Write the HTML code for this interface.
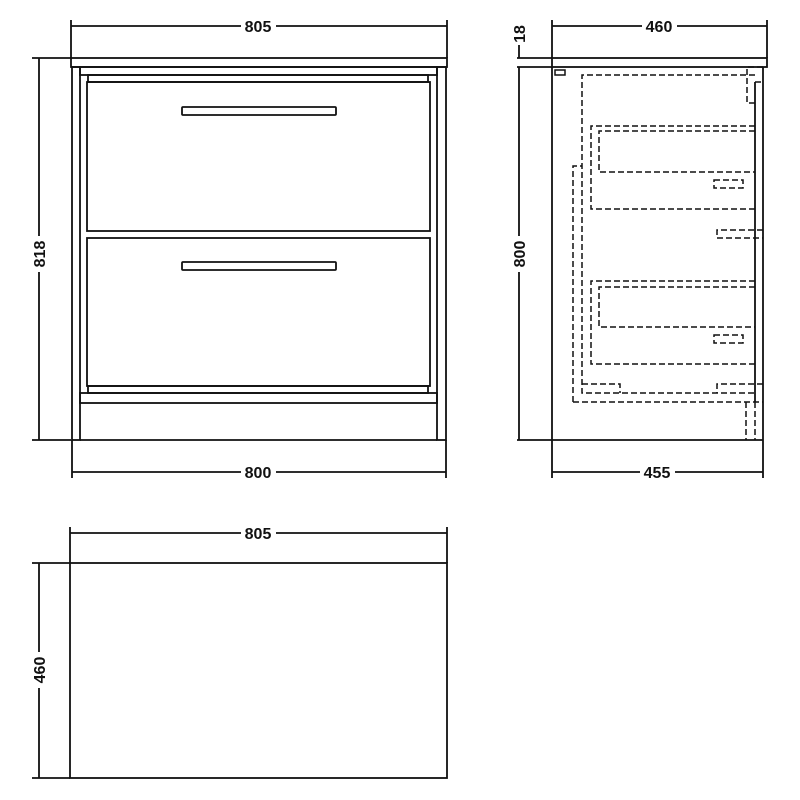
<!DOCTYPE html>
<html><head><style>html,body{margin:0;padding:0;background:#fff}svg{display:block}</style></head>
<body>
<svg width="800" height="800" viewBox="0 0 800 800" xmlns="http://www.w3.org/2000/svg" font-family="Liberation Sans, sans-serif" font-weight="bold" font-size="16">
<g stroke="#111" stroke-width="1.8" fill="none">
<line x1="71" y1="20" x2="71" y2="58"/><line x1="447" y1="20" x2="447" y2="58"/>
<line x1="71" y1="26" x2="241" y2="26"/><line x1="276" y1="26" x2="447" y2="26"/>
<line x1="32" y1="58" x2="71" y2="58"/><line x1="32" y1="440" x2="71" y2="440"/>
<line x1="39" y1="58" x2="39" y2="236"/><line x1="39" y1="272" x2="39" y2="440"/>
<line x1="72" y1="440" x2="72" y2="478"/><line x1="446" y1="440" x2="446" y2="478"/>
<line x1="72" y1="472" x2="241" y2="472"/><line x1="276" y1="472" x2="446" y2="472"/>
<rect x="71" y="58" width="376" height="9"/>
<rect x="72" y="67" width="8" height="373"/>
<rect x="437" y="67" width="9" height="373"/>
<line x1="80" y1="440" x2="437" y2="440"/>
<rect x="80" y="67" width="357" height="8"/>
<rect x="88" y="75" width="340" height="7"/>
<rect x="87" y="82" width="343" height="149"/>
<rect x="87" y="238" width="343" height="148"/>
<rect x="88" y="386" width="340" height="7"/>
<rect x="80" y="393" width="357" height="10"/>
<rect x="182" y="107" width="154" height="8" rx="1"/>
<rect x="182" y="262" width="154" height="8" rx="1"/>
<line x1="552" y1="20" x2="552" y2="58"/><line x1="767" y1="20" x2="767" y2="58"/>
<line x1="552" y1="26" x2="642" y2="26"/><line x1="677" y1="26" x2="767" y2="26"/>
<line x1="517" y1="58" x2="552" y2="58"/><line x1="517" y1="67" x2="552" y2="67"/><line x1="517" y1="440" x2="552" y2="440"/>
<line x1="519" y1="45" x2="519" y2="58"/><line x1="519" y1="67" x2="519" y2="236"/><line x1="519" y1="272" x2="519" y2="440"/>
<line x1="552" y1="440" x2="552" y2="478"/><line x1="763" y1="440" x2="763" y2="478"/>
<line x1="552" y1="472" x2="640" y2="472"/><line x1="675" y1="472" x2="763" y2="472"/>
<rect x="552" y="58" width="215" height="9"/>
<line x1="552" y1="67" x2="552" y2="440"/><line x1="552" y1="440" x2="763" y2="440"/>
<line x1="763" y1="67" x2="763" y2="440"/>
<rect x="555" y="70" width="10" height="5" stroke-width="1.5"/>
<line x1="755" y1="82" x2="755" y2="402"/>
</g>
<g stroke="#111" stroke-width="1.5" fill="none" stroke-dasharray="6,3">
<path d="M755 75 H582 V393 H755"/>
<path d="M573 402 V166 H582 M573 402 H763"/>
<path d="M755 126 H591 V209 H755 M755 131 H599 V172 H755"/>
<rect x="714" y="180" width="29" height="8"/>
<path d="M755 281 H591 V364 H755 M755 287 H599 V327 H755"/>
<rect x="714" y="335" width="29" height="8"/>
<path d="M763 230 H717 V238 H763"/>
<path d="M582 384 H620 V393 M763 384 H717 V393"/>
<path d="M763 67 H747 V103 H755 M755 82 H763"/>
<path d="M746 402 V440 M755 402 V440"/>
</g>
<g stroke="#111" stroke-width="1.8" fill="none">
<line x1="70" y1="527" x2="70" y2="563"/><line x1="447" y1="527" x2="447" y2="563"/>
<line x1="70" y1="533" x2="241" y2="533"/><line x1="276" y1="533" x2="447" y2="533"/>
<rect x="70" y="563" width="377" height="215"/>
<line x1="32" y1="563" x2="70" y2="563"/><line x1="32" y1="778" x2="70" y2="778"/>
<line x1="39" y1="563" x2="39" y2="652"/><line x1="39" y1="688" x2="39" y2="778"/>
</g>
<g fill="#111" text-anchor="middle">
<text x="258" y="32">805</text>
<text x="258" y="478">800</text>
<text x="258" y="539">805</text>
<text x="659" y="32">460</text>
<text x="657" y="478">455</text>
<text transform="translate(45,254) rotate(-90)">818</text>
<text transform="translate(525,254) rotate(-90)">800</text>
<text transform="translate(525,34) rotate(-90)">18</text>
<text transform="translate(45,670) rotate(-90)">460</text>
</g>
</svg>
</body></html>
